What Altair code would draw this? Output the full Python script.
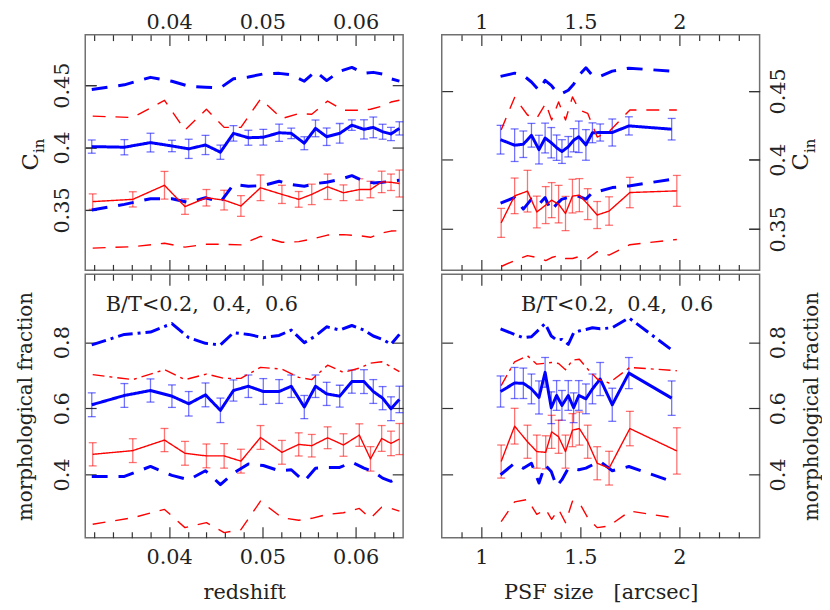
import altair as alt
import pandas as pd

FONT = "DejaVu Serif"
TXT = "#222222"
TICK = "#333333"
FRAME = "#707070"
BLUE = "#0000ff"
RED = "#ff0000"

# ---------------- redshift panels ----------------
z_blue = [0.0317, 0.0352, 0.0380, 0.0403, 0.0421, 0.0439, 0.0455, 0.0469, 0.0485, 0.0501, 0.0518,
          0.0531, 0.0545, 0.0557, 0.0569, 0.0583, 0.0596, 0.0609, 0.0619, 0.0629, 0.0638, 0.0647]
z_red = [0.0318, 0.0361, 0.0395, 0.0417, 0.0440, 0.0459, 0.0477, 0.0498, 0.0521, 0.0539, 0.0553,
         0.0570, 0.0587, 0.0604, 0.0616, 0.0628, 0.0638, 0.0647]

cin_z_blue = [0.4008, 0.4003, 0.4040, 0.4013, 0.3990, 0.4021, 0.3963, 0.4114, 0.4079, 0.4083, 0.4119,
              0.4114, 0.4035, 0.4154, 0.4087, 0.4114, 0.4180, 0.4146, 0.4162, 0.4127, 0.4109, 0.4154]
cin_z_blue_err = [0.0053, 0.0061, 0.0075, 0.0046, 0.0077, 0.0077, 0.0057, 0.0062, 0.0060, 0.0063, 0.0069,
                  0.0042, 0.0052, 0.0067, 0.0070, 0.0079, 0.0042, 0.0077, 0.0083, 0.0060, 0.0053, 0.0053]
cin_z_blue_hi = [0.4466, 0.4503, 0.4563, 0.4532, 0.4492, 0.4484, 0.4479, 0.4551, 0.4566, 0.4590, 0.4595,
                 0.4583, 0.4532, 0.4611, 0.4537, 0.4611, 0.4643, 0.4595, 0.4603, 0.4590, 0.4551, 0.4533]
cin_z_blue_lo = [0.3500, 0.3545, 0.3590, 0.3590, 0.3559, 0.3598, 0.3563, 0.3704, 0.3690, 0.3696, 0.3730,
                 0.3704, 0.3690, 0.3712, 0.3722, 0.3744, 0.3775, 0.3730, 0.3717, 0.3722, 0.3730, 0.3738]
cin_z_red = [0.3567, 0.3585, 0.3698, 0.3527, 0.3598, 0.3579, 0.3532, 0.3678, 0.3625, 0.3585, 0.3625,
             0.3686, 0.3638, 0.3664, 0.3664, 0.3725, 0.3722, 0.3712]
cin_z_red_err = [0.0062, 0.0061, 0.0111, 0.0062, 0.0066, 0.0079, 0.0083, 0.0103, 0.0073, 0.0063, 0.0082,
                 0.0102, 0.0063, 0.0086, 0.0066, 0.0086, 0.0066, 0.0108]
cin_z_red_hi = [0.4252, 0.4241, 0.4379, 0.4140, 0.4307, 0.4162, 0.4162, 0.4389, 0.4233, 0.4273, 0.4267,
                0.4373, 0.4299, 0.4299, 0.4307, 0.4331, 0.4365, 0.4379]
cin_z_red_lo = [0.3194, 0.3206, 0.3233, 0.3202, 0.3225, 0.3225, 0.3220, 0.3289, 0.3241, 0.3246, 0.3267,
                0.3299, 0.3302, 0.3294, 0.3281, 0.3315, 0.3331, 0.3333]

frac_z_blue = [0.6108, 0.6389, 0.6539, 0.6368, 0.6138, 0.6407, 0.5940, 0.6539, 0.6668, 0.6509, 0.6509,
               0.6668, 0.6039, 0.6668, 0.6437, 0.6368, 0.6808, 0.6808, 0.6509, 0.6308, 0.5988, 0.6269]
frac_z_blue_err = [0.036, 0.036, 0.035, 0.034, 0.037, 0.036, 0.037, 0.032, 0.034, 0.039, 0.036,
                   0.034, 0.035, 0.034, 0.035, 0.033, 0.035, 0.036, 0.036, 0.035, 0.036, 0.040]
frac_z_blue_hi = [0.7916, 0.8234, 0.8305, 0.8563, 0.8135, 0.7964, 0.7916, 0.8284, 0.8234, 0.8135, 0.8204,
                  0.8365, 0.7985, 0.8186, 0.8464, 0.8365, 0.8503, 0.8365, 0.8186, 0.8084, 0.7934, 0.8234]
frac_z_blue_lo = [0.3943, 0.3943, 0.4243, 0.3973, 0.3844, 0.4114, 0.3695, 0.4042, 0.4317, 0.4272, 0.4114,
                  0.4144, 0.3793, 0.4192, 0.4213, 0.4213, 0.4371, 0.4192, 0.4093, 0.3892, 0.3793, 0.3913]
frac_z_red = [0.4611, 0.4722, 0.5042, 0.4641, 0.4563, 0.4563, 0.4404, 0.5120, 0.4671, 0.4910, 0.4871,
              0.5111, 0.4892, 0.5192, 0.4473, 0.5090, 0.4940, 0.5072]
frac_z_red_err = [0.035, 0.036, 0.035, 0.036, 0.036, 0.037, 0.036, 0.036, 0.036, 0.035, 0.034,
                  0.033, 0.034, 0.034, 0.037, 0.039, 0.037, 0.047]
frac_z_red_hi = [0.7018, 0.6868, 0.7168, 0.6868, 0.7036, 0.6907, 0.6907, 0.7237, 0.7186, 0.6937, 0.6868,
                 0.7305, 0.7087, 0.7216, 0.7365, 0.7407, 0.7257, 0.7108]
frac_z_red_lo = [0.2497, 0.2695, 0.2946, 0.2395, 0.2545, 0.2246, 0.2335, 0.3195, 0.2695, 0.2617, 0.2677,
                 0.2796, 0.2844, 0.2976, 0.2677, 0.3015, 0.2976, 0.2895]

# ---------------- PSF panels ----------------
psf_blue = [1.097, 1.168, 1.212, 1.253, 1.291, 1.322, 1.353, 1.380, 1.407, 1.439, 1.466, 1.492,
            1.528, 1.561, 1.600, 1.661, 1.745, 1.961]
psf_red = [1.100, 1.168, 1.233, 1.280, 1.325, 1.355, 1.390, 1.425, 1.460, 1.495, 1.537, 1.585,
           1.645, 1.750, 1.987]

cin_p_blue = [0.4146, 0.4106, 0.4113, 0.4178, 0.4074, 0.4158, 0.4124, 0.4088, 0.4060, 0.4095, 0.4142,
              0.4167, 0.4108, 0.4196, 0.4198, 0.4198, 0.4246, 0.4222]
cin_p_blue_err = [0.0104, 0.0118, 0.0096, 0.0086, 0.0104, 0.0108, 0.0110, 0.0092, 0.0086, 0.0074, 0.0084,
                  0.0114, 0.0111, 0.0072, 0.0062, 0.0098, 0.0066, 0.0078]
cin_p_blue_hi = [0.4605, 0.4628, 0.4612, 0.4564, 0.4504, 0.4576, 0.4540, 0.4490, 0.4481, 0.4504, 0.4547,
                 0.4612, 0.4667, 0.4612, 0.4605, 0.4643, 0.4664, 0.4643]
cin_p_blue_lo = [0.3687, 0.3727, 0.3643, 0.3715, 0.3679, 0.3727, 0.3631, 0.3679, 0.3715, 0.3727, 0.3739,
                 0.3735, 0.3715, 0.3763, 0.3775, 0.3799, 0.3811, 0.3859]
cin_p_red = [0.3543, 0.3739, 0.3773, 0.3622, 0.3672, 0.3708, 0.3679, 0.3611, 0.3737, 0.3744, 0.3679,
             0.3600, 0.3629, 0.3763, 0.3775]
cin_p_red_err = [0.0105, 0.0129, 0.0151, 0.0115, 0.0134, 0.0127, 0.0136, 0.0124, 0.0122, 0.0120, 0.0112,
                 0.0098, 0.0103, 0.0110, 0.0112]
cin_p_red_hi = [0.4217, 0.4452, 0.4325, 0.4301, 0.4409, 0.4289, 0.4420, 0.4289, 0.4456, 0.4361, 0.4337,
                0.4165, 0.4205, 0.4361, 0.4361]
cin_p_red_lo = [0.3227, 0.3270, 0.3306, 0.3292, 0.3270, 0.3292, 0.3306, 0.3285, 0.3285, 0.3299, 0.3285,
                0.3335, 0.3310, 0.3385, 0.3423]

frac_p_blue = [0.6509, 0.6766, 0.6757, 0.6587, 0.6329, 0.7087, 0.6018, 0.6389, 0.6090, 0.6389, 0.6018,
               0.6389, 0.6287, 0.6587, 0.6886, 0.6108, 0.7066, 0.6308]
frac_p_blue_err = [0.047, 0.047, 0.046, 0.045, 0.050, 0.045, 0.048, 0.045, 0.045, 0.045, 0.045,
                   0.045, 0.045, 0.045, 0.050, 0.050, 0.047, 0.052]
frac_p_blue_hi = [0.8404, 0.8234, 0.8135, 0.8165, 0.8383, 0.8563, 0.8186, 0.8066, 0.8084, 0.7934, 0.8284,
                  0.8335, 0.8383, 0.8434, 0.8404, 0.8434, 0.8734, 0.7766]
frac_p_blue_lo = [0.3994, 0.4341, 0.4192, 0.4341, 0.3743, 0.4293, 0.4093, 0.3644, 0.3844, 0.4192, 0.4174,
                  0.4144, 0.4192, 0.4293, 0.4392, 0.4114, 0.4243, 0.3793]
frac_p_red = [0.4392, 0.5461, 0.4991, 0.4692, 0.4671, 0.5290, 0.5141, 0.4692, 0.5341, 0.5389, 0.4991,
              0.4341, 0.4192, 0.5389, 0.4713]
frac_p_red_err = [0.050, 0.054, 0.050, 0.050, 0.050, 0.050, 0.050, 0.050, 0.050, 0.050, 0.050,
                  0.050, 0.051, 0.052, 0.070]
frac_p_red_hi = [0.6689, 0.7407, 0.7587, 0.7335, 0.7365, 0.7386, 0.7356, 0.7168, 0.7455, 0.7485, 0.7186,
                 0.6886, 0.6766, 0.7237, 0.7138]
frac_p_red_lo = [0.2575, 0.3174, 0.3246, 0.2796, 0.2946, 0.2647, 0.2946, 0.2545, 0.3195, 0.3144, 0.2695,
                 0.2395, 0.2446, 0.2895, 0.2677]

# ---------------- axes ticks / labels ----------------
z_major = [0.04, 0.05, 0.06]
z_minor = [0.032, 0.034, 0.036, 0.038, 0.042, 0.044, 0.046, 0.048, 0.052, 0.054, 0.056, 0.058, 0.062, 0.064]
p_major = [1.0, 1.5, 2.0]
p_minor = [0.9, 1.1, 1.2, 1.3, 1.4, 1.6, 1.7, 1.8, 1.9, 2.1, 2.2, 2.3]
cin_ticks = [0.35, 0.40, 0.45]
frac_ticks = [0.4, 0.6, 0.8]
note_text = "B/T<0.2,\u00a0 0.4,\u00a0 0.6"

# series keys: b/r = blue/red; m = median (solid), h = upper dashed, l = lower dashed, d = upper dash-dot
KEYS = ["bm", "bh", "bl", "bd", "rm", "rh", "rl", "rd"]
COLORS = [BLUE] * 4 + [RED] * 4
DASHES = [[1, 0], [16, 11], [16, 11], [15, 5, 3, 5], [1, 0], [13, 10], [13, 10], [12, 5, 3, 5]]
LFS = 21  # tick-label font size


def build_df(xb, xr, bm, be, bh, bl, rm, re_, rh, rl, hi_key):
    rows = []
    for key, xs, ys, es in [("bm", xb, bm, be), ("b" + hi_key, xb, bh, None), ("bl", xb, bl, None),
                            ("rm", xr, rm, re_), ("r" + hi_key, xr, rh, None), ("rl", xr, rl, None)]:
        for i, (xv, yv) in enumerate(zip(xs, ys)):
            rows.append({"x": xv, "y": yv, "err": (es[i] if es is not None else 0.0), "s": key,
                         "c": key[0], "i": i})
    return pd.DataFrame(rows)


def x_axis(orient, values, size, labels=False, title=None, fmt="~g", lpad=0, tpad=0):
    kw = dict(orient=orient, values=values, tickSize=size, offset=-size, domain=False, grid=False,
              ticks=True, tickColor=TICK, tickWidth=1.2, labels=labels, title=title)
    if labels:
        kw.update(labelFont=FONT, labelFontSize=LFS, labelColor=TXT, labelPadding=lpad, labelAngle=0,
                  format=fmt)
    if title:
        kw.update(titleFont=FONT, titleFontSize=21, titleColor=TXT, titleFontWeight="normal",
                  titlePadding=tpad)
    return alt.Axis(**kw)


def y_axis(orient, values, size=11, labels=False, title=None, lpad=0, tpad=0, tsize=20,
           talign="center", lopacity=1.0):
    kw = dict(orient=orient, values=values, tickSize=size, offset=-size, domain=False, grid=False,
              ticks=True, tickColor=TICK, tickWidth=1.2, labels=labels, title=title)
    if labels:
        kw.update(labelFont=FONT, labelFontSize=LFS, labelColor=TXT, labelPadding=lpad, labelAngle=270,
                  labelOpacity=lopacity, format="~g")
    if title:
        kw.update(titleFont=FONT, titleFontSize=tsize, titleColor=TXT, titleFontWeight="normal",
                  titlePadding=tpad, titleAngle=270, titleAlign=talign, titleBaseline="alphabetic")
    return alt.Axis(**kw)


def panel(df, xdom, ydom, xmaj, xmin, ymaj, side, top, xfmt, xtitle, ytitle, w, h, note=None):
    xs = alt.Scale(domain=xdom, nice=False, zero=False)
    ys = alt.Scale(domain=ydom, nice=False, zero=False)
    other = "right" if side == "left" else "left"
    color = alt.Color("s:N", scale=alt.Scale(domain=KEYS, range=COLORS), legend=None)
    dash = alt.StrokeDash("s:N", scale=alt.Scale(domain=KEYS, range=DASHES), legend=None)
    lp = 13 if side == "left" else 8

    if ytitle == "C":
        main_y = y_axis(side, ymaj, labels=True, title="C", lpad=lp,
                        tpad=14 if side == "left" else 19, tsize=23, talign="right")
        sub_y = y_axis(side, ymaj, labels=True, title="in", lpad=lp,
                       tpad=8 if side == "left" else 26, tsize=15, talign="left", lopacity=0.0)
    else:
        main_y = y_axis(side, ymaj, labels=True, title=ytitle, lpad=lp,
                        tpad=20 if side == "left" else 29, tsize=20)
        sub_y = None
    opp_y = y_axis(other, ymaj)

    bx_major = x_axis("bottom", xmaj, 11, labels=not top, title=None if top else xtitle, fmt=xfmt,
                      lpad=9, tpad=14)
    bx_minor = x_axis("bottom", xmin, 6)
    tx_major = x_axis("top", xmaj, 11, labels=top, fmt=xfmt, lpad=2)
    tx_minor = x_axis("top", xmin, 6)

    mids = alt.Chart(df).transform_filter(
        alt.FieldOneOfPredicate(field="s", oneOf=["bm", "rm"])
    ).transform_calculate(lo="datum.y - datum.err", hi="datum.y + datum.err")

    err = mids.mark_rule(strokeWidth=1.3, opacity=0.55).encode(
        x=alt.X("x:Q", scale=xs, axis=bx_minor),
        y=alt.Y("lo:Q", scale=ys, axis=opp_y),
        y2="hi:Q",
        color=color,
    )
    cap_lo = mids.mark_tick(orient="horizontal", size=8, thickness=1.3, opacity=0.55).encode(
        x=alt.X("x:Q", scale=xs, axis=tx_major),
        y=alt.Y("lo:Q", scale=ys, axis=sub_y),
        color=color,
    )
    cap_hi = mids.mark_tick(orient="horizontal", size=8, thickness=1.3, opacity=0.55).encode(
        x=alt.X("x:Q", scale=xs, axis=tx_minor),
        y=alt.Y("hi:Q", scale=ys, axis=None),
        color=color,
    )
    blue_lines = alt.Chart(df).transform_filter(alt.datum.c == "b").mark_line(
        strokeWidth=3, strokeCap="butt", strokeJoin="round").encode(
        x=alt.X("x:Q", scale=xs, axis=bx_major),
        y=alt.Y("y:Q", scale=ys, axis=main_y),
        color=color, detail="s:N", order="i:Q", strokeDash=dash,
    )
    red_lines = alt.Chart(df).transform_filter(alt.datum.c == "r").mark_line(
        strokeWidth=1.4, strokeCap="butt", strokeJoin="round").encode(
        x=alt.X("x:Q", scale=xs, axis=None),
        y=alt.Y("y:Q", scale=ys, axis=None),
        color=color, detail="s:N", order="i:Q", strokeDash=dash,
    )
    layers = [err, cap_lo, cap_hi, blue_lines, red_lines]
    if note is not None:
        ndf = pd.DataFrame({"x": [note[0]], "y": [note[1]], "t": [note_text]})
        layers.append(alt.Chart(ndf).mark_text(align="left", baseline="middle", font=FONT, fontSize=21,
                                               color=TXT).encode(
            x=alt.X("x:Q", scale=xs, axis=None), y=alt.Y("y:Q", scale=ys, axis=None), text="t:N"))
    return alt.layer(*layers).resolve_axis(x="independent", y="independent").properties(width=w, height=h)


df_tl = build_df(z_blue, z_red, cin_z_blue, cin_z_blue_err, cin_z_blue_hi, cin_z_blue_lo,
                 cin_z_red, cin_z_red_err, cin_z_red_hi, cin_z_red_lo, "h")
df_tr = build_df(psf_blue, psf_red, cin_p_blue, cin_p_blue_err, cin_p_blue_hi, cin_p_blue_lo,
                 cin_p_red, cin_p_red_err, cin_p_red_hi, cin_p_red_lo, "h")
df_bl = build_df(z_blue, z_red, frac_z_blue, frac_z_blue_err, frac_z_blue_hi, frac_z_blue_lo,
                 frac_z_red, frac_z_red_err, frac_z_red_hi, frac_z_red_lo, "d")
df_br = build_df(psf_blue, psf_red, frac_p_blue, frac_p_blue_err, frac_p_blue_hi, frac_p_blue_lo,
                 frac_p_red, frac_p_red_err, frac_p_red_hi, frac_p_red_lo, "d")

Z_DOM = [0.031, 0.0651]
P_DOM = [0.8, 2.405]

tl = panel(df_tl, Z_DOM, [0.3016, 0.4905], z_major, z_minor, cin_ticks, "left", True, ".2f",
           "redshift", "C", 321, 238)
tr = panel(df_tr, P_DOM, [0.3199, 0.4907], p_major, p_minor, cin_ticks, "right", True, "~g",
           "PSF size\u00a0\u00a0\u00a0[arcsec]", "C", 321, 238)
bl = panel(df_bl, Z_DOM, [0.209, 1.005], z_major, z_minor, frac_ticks, "left", False, ".2f",
           "redshift", "morphological fraction", 321, 266, note=(0.0332, 0.912))
br = panel(df_br, P_DOM, [0.209, 1.005], p_major, p_minor, frac_ticks, "right", False, "~g",
           "PSF size\u00a0\u00a0\u00a0[arcsec]", "morphological fraction", 321, 266,
           note=(1.20, 0.912))

chart = alt.concat(tl, tr, bl, br, columns=2, spacing={"row": 0, "column": 35}).properties(
    padding={"left": 7, "top": 0, "right": 0, "bottom": 0}, background="white"
).configure_view(stroke=FRAME, strokeWidth=1.5)

chart.save("out.html", embed_options={"renderer": "svg", "actions": False})
